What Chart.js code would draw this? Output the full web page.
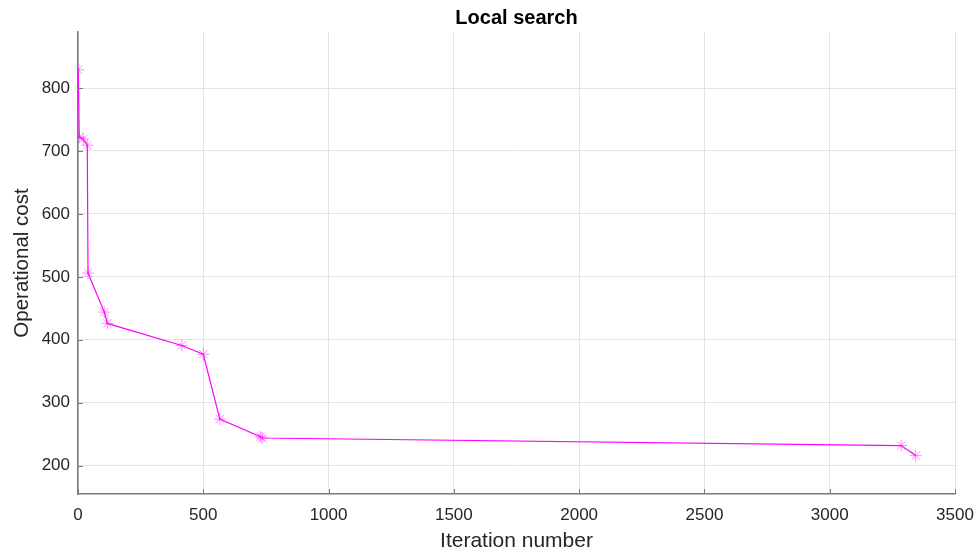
<!DOCTYPE html>
<html>
<head>
<meta charset="utf-8">
<script src="https://cdn.jsdelivr.net/npm/chart.js@4.4.1/dist/chart.umd.min.js"></script>
<style>
html,body{margin:0;padding:0;background:#fff;}
#wrap{width:977px;height:554px;position:relative;}
</style>
</head>
<body>
<div id="wrap"><canvas id="c" width="977" height="554"></canvas></div>
<script>
const iterations = [1, 5, 21, 37, 40, 105, 117, 414, 500, 566, 728, 735, 3285, 3343];
const costs = [829, 722, 719, 709, 506, 444, 426, 391, 377, 274, 246, 244, 232, 216];
const xTicks = [0, 500, 1000, 1500, 2000, 2500, 3000, 3500];
const yTicks = [200, 300, 400, 500, 600, 700, 800];
const chartTitle = 'Local search';
const xTitle = 'Iteration number';
const yTitle = 'Operational cost';

const FONT = "'Liberation Sans', Arial, Helvetica, sans-serif";
const AXIS = '#7a7a7a';

const inwardTicks = {
  id: 'inwardTicks',
  afterDatasetsDraw(chart) {
    const ctx = chart.ctx, a = chart.chartArea;
    const xs = chart.scales.x, ys = chart.scales.y;
    ctx.save();
    ctx.strokeStyle = AXIS;
    ctx.lineWidth = 1;
    ctx.beginPath();
    xs.ticks.forEach(t => {
      const p = Math.round(xs.getPixelForValue(t.value)) + 0.5;
      ctx.moveTo(p, a.bottom); ctx.lineTo(p, a.bottom - 5);
    });
    ys.ticks.forEach(t => {
      const p = Math.round(ys.getPixelForValue(t.value)) + 0.5;
      ctx.moveTo(a.left, p); ctx.lineTo(a.left + 5, p);
    });
    ctx.stroke();
    ctx.restore();
  }
};

new Chart(document.getElementById('c'), {
  type: 'line',
  data: {
    datasets: [{
      data: iterations.map((x, i) => ({x: x, y: costs[i]})),
      borderColor: '#ff00ff',
      borderWidth: 1.2,
      pointStyle: 'star',
      pointRadius: 6,
      pointBorderColor: 'rgba(255,0,255,0.45)',
      pointBackgroundColor: 'rgba(255,0,255,0.45)',
      pointBorderWidth: 1,
      tension: 0,
      fill: false
    }]
  },
  options: {
    responsive: false,
    animation: false,
    devicePixelRatio: 1,
    layout: {padding: {left: 0, right: 22, top: 0, bottom: 0}},
    plugins: {
      legend: {display: false},
      tooltip: {enabled: false},
      title: {
        display: true,
        fullSize: false,
        text: chartTitle,
        color: '#000',
        font: {family: FONT, size: 20, weight: 'bold'},
        padding: {top: 6, bottom: 2}
      }
    },
    scales: {
      x: {
        type: 'linear',
        min: 0, max: 3500,
        afterBuildTicks: s => { s.ticks = xTicks.map(v => ({value: v})); },
        afterFit: s => { s.height = 60; s.paddingRight = 0; s.paddingLeft = 0; },
        grid: {color: '#e3e3e3', drawTicks: false, lineWidth: 1},
        border: {color: AXIS, width: 1.5},
        ticks: {color: '#262626', font: {family: FONT, size: 17}, padding: 11, maxRotation: 0,
                callback: v => String(v)},
        title: {display: true, text: xTitle, color: '#262626', font: {family: FONT, size: 21}, padding: {top: 2, bottom: 0}}
      },
      y: {
        type: 'linear',
        min: 155, max: 889,
        afterBuildTicks: s => { s.ticks = yTicks.map(v => ({value: v})); },
        afterFit: s => { s.width = 78; s.paddingTop = 0; s.paddingBottom = 0; },
        grid: {color: '#e3e3e3', drawTicks: false, lineWidth: 1},
        border: {color: AXIS, width: 1.5},
        ticks: {color: '#262626', font: {family: FONT, size: 17}, padding: 8, callback: v => String(v)},
        title: {display: true, text: yTitle, color: '#262626', font: {family: FONT, size: 20.5}, padding: {top: 10, bottom: 4}}
      }
    }
  },
  plugins: [inwardTicks]
});
</script>
</body>
</html>
